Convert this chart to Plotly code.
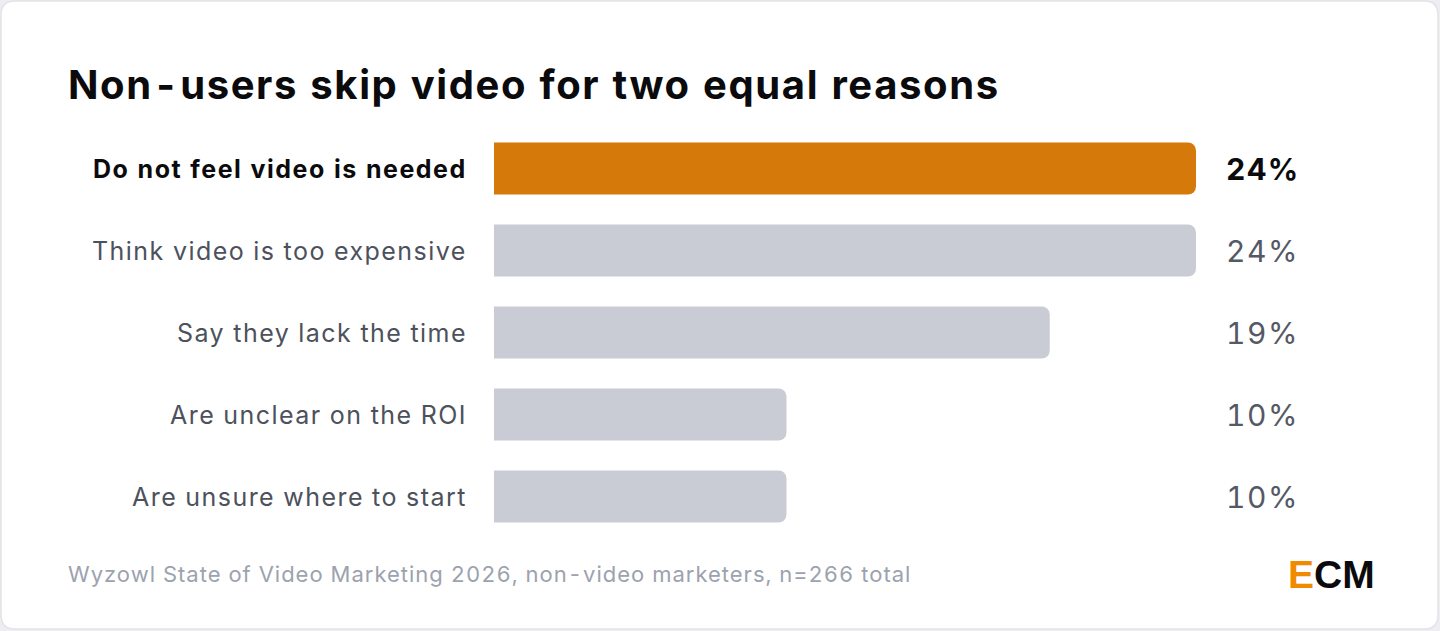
import plotly.graph_objects as go

W, H = 1440, 631

title_text = "Non-users skip video for two equal reasons"
categories = [
    "Do not feel video is needed",
    "Think video is too expensive",
    "Say they lack the time",
    "Are unclear on the ROI",
    "Are unsure where to start",
]
values = [24, 24, 19, 10, 10]
value_labels = ["24%", "24%", "19%", "10%", "10%"]
highlight = [True, False, False, False, False]
source_text = "Wyzowl State of Video Marketing 2026, non-video marketers, n=266 total"

ORANGE = "#d5790b"
GREY_BAR = "#c9ccd4"
PAGE_BG = "#eeeef2"
CARD_BG = "#ffffff"
FONT = "Inter, 'Noto Sans', sans-serif"


def px(x):
    return x / W


def py(y):
    return 1 - y / H


def spaced(t, ls):
    return (f"<span style='letter-spacing:{ls}px;"
            f"font-variant-numeric:tabular-nums'>{t}</span>")


bar_colors = [ORANGE if h else GREY_BAR for h in highlight]

fig = go.Figure(
    go.Bar(
        x=values,
        y=categories,
        orientation="h",
        marker=dict(color=bar_colors, line=dict(width=0)),
        hoverinfo="skip",
    )
)

# rounded card
x0, y0, x1, y1, r = 1, 1, 1438, 629, 14
path = (
    f"M {px(x0 + r)},{py(y0)} L {px(x1 - r)},{py(y0)} "
    f"Q {px(x1)},{py(y0)} {px(x1)},{py(y0 + r)} "
    f"L {px(x1)},{py(y1 - r)} Q {px(x1)},{py(y1)} {px(x1 - r)},{py(y1)} "
    f"L {px(x0 + r)},{py(y1)} Q {px(x0)},{py(y1)} {px(x0)},{py(y1 - r)} "
    f"L {px(x0)},{py(y0 + r)} Q {px(x0)},{py(y0)} {px(x0 + r)},{py(y0)} Z"
)
fig.add_shape(
    type="path", path=path, xref="paper", yref="paper",
    fillcolor=CARD_BG, line=dict(color="#e3e3e8", width=1.5), layer="below",
)

annotations = []
annotations.append(dict(
    text=f"<b>{spaced(title_text, 1.6)}</b>", x=px(65.5), y=py(84), xref="paper", yref="paper",
    xanchor="left", yanchor="middle", showarrow=False,
    font=dict(family=FONT, size=40, color="#0b0b0d"),
))
for cat, lab, h in zip(categories, value_labels, highlight):
    annotations.append(dict(
        text=f"<b>{spaced(cat, 1.5)}</b>" if h else spaced(cat, 1.45),
        x=px(468.5), y=cat, xref="paper", yref="y",
        xanchor="right", yanchor="middle", showarrow=False,
        font=dict(family=FONT, size=25, color="#0b0b0d" if h else "#4d515c"),
    ))
    annotations.append(dict(
        text=f"<b>{spaced(lab, 1.5)}</b>" if h else spaced(lab, 1.5),
        x=px(1223.5), y=cat, xref="paper", yref="y",
        xanchor="left", yanchor="middle", showarrow=False,
        font=dict(family=FONT, size=30, color="#0b0b0d" if h else "#555965"),
    ))
annotations.append(dict(
    text=spaced(source_text, 1.0), x=px(65.5), y=py(574), xref="paper", yref="paper",
    xanchor="left", yanchor="middle", showarrow=False,
    font=dict(family=FONT, size=22, color="#9ca2ae"),
))
annotations.append(dict(
    text="<b><span style='color:#f08a00'>E</span>CM</b>", x=px(1377), y=py(574),
    xref="paper", yref="paper", xanchor="right", yanchor="middle", showarrow=False,
    font=dict(family="'Liberation Sans', Arial, sans-serif", size=39, color="#0b0b0d"),
))

fig.update_layout(
    width=W, height=H, autosize=False,
    margin=dict(l=0, r=0, t=0, b=0, pad=0),
    paper_bgcolor=PAGE_BG, plot_bgcolor="rgba(0,0,0,0)",
    showlegend=False, bargap=0.366, barcornerradius=8,
    xaxis=dict(domain=[px(494), px(1196)], range=[0, 24], visible=False, fixedrange=True),
    yaxis=dict(domain=[py(537.5), py(127.5)], range=[4.5, -0.5], visible=False,
               categoryorder="array", categoryarray=categories, fixedrange=True),
    annotations=annotations,
    font=dict(family=FONT),
)

fig.write_html(
    "out.html",
    config={"displayModeBar": False},
    post_script="document.body.style.margin='0';document.body.style.overflow='hidden';",
)
